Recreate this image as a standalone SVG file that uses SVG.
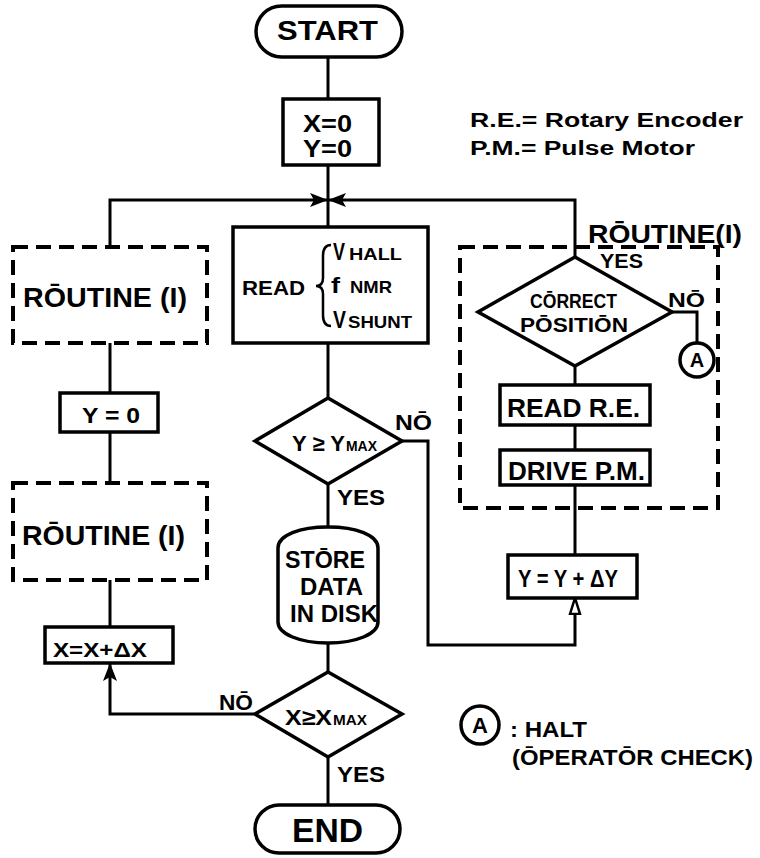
<svg xmlns="http://www.w3.org/2000/svg" width="760" height="858" viewBox="0 0 760 858">
<style>
  .bg{fill:#ffffff}
  .box{fill:#ffffff;stroke:#000;stroke-width:3.5}
  .dash{fill:none;stroke:#000;stroke-width:4;stroke-dasharray:15 8}
  .ln{fill:none;stroke:#000;stroke-width:3}
  text{font-family:"Liberation Sans",Arial,sans-serif;font-weight:bold;fill:#000}
  .c{text-anchor:middle}
</style>
<defs>
  <marker id="arr" markerUnits="userSpaceOnUse" markerWidth="18" markerHeight="14" viewBox="0 0 18 14" refX="18" refY="7" orient="auto">
    <path d="M0,0 L18,7 L0,14 L4,7 Z" fill="#000"/>
  </marker>
  <marker id="arrOpen" markerUnits="userSpaceOnUse" markerWidth="18" markerHeight="14" viewBox="0 0 18 14" refX="17" refY="7" orient="auto">
    <path d="M1,2 L17,7 L1,12 Z" fill="#fff" stroke="#000" stroke-width="2.5"/>
  </marker>
</defs>
<rect class="bg" x="0" y="0" width="760" height="858"/>

<g id="connectors">
  <path class="ln" d="M328,57 V99"/>
  <path class="ln" d="M328,165 V200"/>
  <path class="ln" d="M328,200 V227"/>
  <path class="ln" d="M110,247 V200 H328" marker-end="url(#arr)"/>
  <path class="ln" d="M575,257 V200 H328" marker-end="url(#arr)"/>
  <path class="ln" d="M328,343 V398"/>
  <path class="ln" d="M328,484 V527"/>
  <path class="ln" d="M328,643 V672"/>
  <path class="ln" d="M328,757 V805"/>
  <path class="ln" d="M255,714 H110 V663" marker-end="url(#arr)"/>
  <path class="ln" d="M110,343 V393"/>
  <path class="ln" d="M110,432 V483"/>
  <path class="ln" d="M110,580 V627"/>
  <path class="ln" d="M402,441 H428 V645 H575 V598" marker-end="url(#arrOpen)"/>
  <path class="ln" d="M575,555 V485"/>
  <path class="ln" d="M575,450 V425"/>
  <path class="ln" d="M575,385 V366"/>
  <path class="ln" d="M672,312 H697 V342"/>
</g>

<g id="start">
  <rect class="box" x="256" y="6" width="146" height="51" rx="25.5"/>
  <text x="277" y="40" font-size="28" textLength="101" lengthAdjust="spacingAndGlyphs">START</text>
</g>

<g id="init">
  <rect class="box" x="283" y="99" width="96" height="66"/>
  <text x="303" y="132" font-size="24" textLength="49" lengthAdjust="spacingAndGlyphs">X=0</text>
  <text x="303" y="157" font-size="24" textLength="49" lengthAdjust="spacingAndGlyphs">Y=0</text>
</g>

<g id="legend">
  <text x="470" y="127" font-size="20" textLength="273" lengthAdjust="spacingAndGlyphs">R.E.= Rotary Encoder</text>
  <text x="470" y="155" font-size="20" textLength="225" lengthAdjust="spacingAndGlyphs">P.M.= Pulse Motor</text>
</g>

<g id="read">
  <rect class="box" x="233" y="227" width="195" height="116"/>
  <text x="242" y="295" font-size="21" textLength="63" lengthAdjust="spacingAndGlyphs">READ</text>
  <path class="ln" style="stroke-width:2.5" d="M331,245 Q323,245 323,256 V278 Q323,286 316,286 Q323,286 323,294 V315 Q323,326 331,326"/>
  <text x="333" y="260" font-size="24" textLength="12" lengthAdjust="spacingAndGlyphs">V</text>
  <text x="349" y="260" font-size="17" textLength="53" lengthAdjust="spacingAndGlyphs">HALL</text>
  <text x="331" y="293" font-size="22" textLength="9" lengthAdjust="spacingAndGlyphs">f</text>
  <text x="350" y="293" font-size="17" textLength="42" lengthAdjust="spacingAndGlyphs">NMR</text>
  <text x="333" y="328" font-size="24" textLength="13" lengthAdjust="spacingAndGlyphs">V</text>
  <text x="348" y="328" font-size="17" textLength="64" lengthAdjust="spacingAndGlyphs">SHUNT</text>
</g>

<g id="ycheck">
  <polygon class="box" points="328,398 402,441 328,484 255,441"/>
  <text x="292" y="451" font-size="22" textLength="53" lengthAdjust="spacingAndGlyphs">Y ≥ Y</text>
  <text x="346" y="451" font-size="14" textLength="31" lengthAdjust="spacingAndGlyphs">MAX</text>
  <text x="395" y="430" font-size="22" textLength="37" lengthAdjust="spacingAndGlyphs">NŌ</text>
  <text x="337" y="505" font-size="22" textLength="48" lengthAdjust="spacingAndGlyphs">YES</text>
</g>

<g id="store">
  <path class="box" d="M278,548 C278,535 300,527 328,527 C356,527 378,535 378,548 V622 C378,634 356,643 328,643 C300,643 278,634 278,622 Z"/>
  <text x="285" y="568" font-size="24" textLength="80" lengthAdjust="spacingAndGlyphs">STŌRE</text>
  <text x="300" y="595" font-size="24" textLength="63" lengthAdjust="spacingAndGlyphs">DATA</text>
  <text x="290" y="622" font-size="24" textLength="88" lengthAdjust="spacingAndGlyphs">IN DISK</text>
</g>

<g id="xcheck">
  <polygon class="box" points="328,672 402,714 328,757 255,714"/>
  <text x="285" y="725" font-size="22" textLength="47" lengthAdjust="spacingAndGlyphs">X≥X</text>
  <text x="333" y="725" font-size="14" textLength="34" lengthAdjust="spacingAndGlyphs">MAX</text>
  <text x="219" y="710" font-size="22" textLength="34" lengthAdjust="spacingAndGlyphs">NŌ</text>
  <text x="337" y="782" font-size="22" textLength="48" lengthAdjust="spacingAndGlyphs">YES</text>
</g>

<g id="end">
  <rect class="box" x="255" y="805" width="145" height="48" rx="24"/>
  <text x="292" y="842" font-size="34" textLength="71" lengthAdjust="spacingAndGlyphs">END</text>
</g>

<g id="routine-left-1">
  <rect class="dash" x="13" y="247" width="194" height="96"/>
  <text x="23" y="307" font-size="28" textLength="164" lengthAdjust="spacingAndGlyphs">RŌUTINE (I)</text>
</g>

<g id="y-reset">
  <rect class="box" x="60" y="393" width="98" height="39"/>
  <text x="82" y="423" font-size="22" textLength="58" lengthAdjust="spacingAndGlyphs">Y = 0</text>
</g>

<g id="routine-left-2">
  <rect class="dash" x="13" y="483" width="194" height="97"/>
  <text x="22" y="545" font-size="28" textLength="163" lengthAdjust="spacingAndGlyphs">RŌUTINE (I)</text>
</g>

<g id="x-inc">
  <rect class="box" x="45" y="627" width="128" height="36"/>
  <text x="53" y="657" font-size="21" textLength="94" lengthAdjust="spacingAndGlyphs">X=X+ΔX</text>
</g>

<g id="routine-right">
  <rect class="dash" x="460" y="247" width="258" height="261"/>
  <text x="588" y="243" font-size="26" textLength="154" lengthAdjust="spacingAndGlyphs">RŌUTINE(I)</text>
</g>

<g id="correct-position">
  <polygon class="box" points="575,257 672,312 575,366 478,312"/>
  <text x="600" y="268" font-size="20" textLength="43" lengthAdjust="spacingAndGlyphs">YES</text>
  <text x="530" y="308" font-size="20" textLength="87" lengthAdjust="spacingAndGlyphs">CŌRRECT</text>
  <text x="520" y="332" font-size="20" textLength="108" lengthAdjust="spacingAndGlyphs">PŌSITIŌN</text>
  <text x="668" y="307" font-size="20" textLength="37" lengthAdjust="spacingAndGlyphs">NŌ</text>
</g>

<g id="halt-a">
  <circle class="box" cx="697" cy="360" r="17"/>
  <text class="c" x="697" y="367" font-size="20">A</text>
</g>

<g id="read-re">
  <rect class="box" x="500" y="385" width="150" height="40"/>
  <text x="507" y="417" font-size="26" textLength="133" lengthAdjust="spacingAndGlyphs">READ R.E.</text>
</g>

<g id="drive-pm">
  <rect class="box" x="500" y="450" width="150" height="35"/>
  <text x="508" y="480" font-size="26" textLength="137" lengthAdjust="spacingAndGlyphs">DRIVE P.M.</text>
</g>

<g id="y-inc">
  <rect class="box" x="508" y="555" width="129" height="43"/>
  <text x="518" y="587" font-size="24" textLength="100" lengthAdjust="spacingAndGlyphs">Y = Y + ΔY</text>
</g>

<g id="halt-legend">
  <circle class="box" cx="480" cy="725" r="19"/>
  <text class="c" x="480" y="733" font-size="22">A</text>
  <text x="510" y="737" font-size="22" textLength="77" lengthAdjust="spacingAndGlyphs">: HALT</text>
  <text x="512" y="765" font-size="22" textLength="241" lengthAdjust="spacingAndGlyphs">(ŌPERATŌR CHECK)</text>
</g>
</svg>
